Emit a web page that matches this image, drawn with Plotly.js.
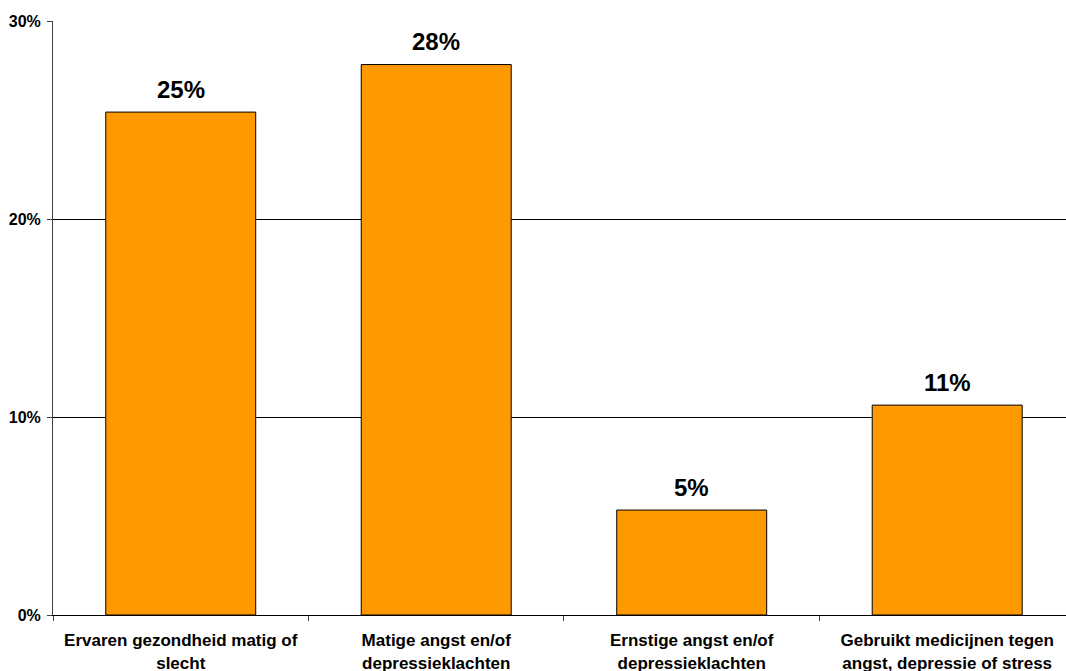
<!DOCTYPE html>
<html>
<head>
<meta charset="utf-8">
<script src="https://cdn.plot.ly/plotly-3.0.1.min.js"></script>
<style>
  html, body { margin: 0; padding: 0; background: #ffffff; }
  #chart { width: 1066px; height: 671px; }
</style>
</head>
<body>
<div id="chart"></div>
<script>
// Indicator categories (two-line labels) and their shares
const categories = [
  "Ervaren gezondheid matig of<br>slecht",
  "Matige angst en/of<br>depressieklachten",
  "Ernstige angst en/of<br>depressieklachten",
  "Gebruikt medicijnen tegen<br>angst, depressie of stress"
];
const shares = [0.254, 0.278, 0.053, 0.106];
const yTickValues = [0, 0.10, 0.20, 0.30];
const yTickLabels = ["0%", "10%", "20%", "30%"];

const fontFamily = "Arial, 'Liberation Sans', sans-serif";

const bars = {
  type: "bar",
  x: categories,
  y: shares,
  width: 0.587,
  marker: { color: "#FF9900", line: { color: "#000000", width: 1 } },
  hoverinfo: "skip"
};

// Value labels above each bar, rounded to whole percentages
const valueLabels = categories.map((c, i) => ({
  x: c,
  y: shares[i],
  xref: "x",
  yref: "y",
  text: Math.round(shares[i] * 100) + "%",
  showarrow: false,
  yanchor: "middle",
  yshift: 23,
  font: { family: fontFamily, size: 24, color: "#000000", weight: "bold" }
}));

const layout = {
  width: 1066,
  height: 671,
  margin: { l: 53, r: 0, t: 21, b: 56 },
  paper_bgcolor: "#ffffff",
  plot_bgcolor: "#ffffff",
  showlegend: false,
  xaxis: {
    type: "category",
    range: [-0.5, 3.465],
    tickson: "boundaries",
    ticks: "outside",
    ticklen: 5,
    tickcolor: "#404040",
    showline: true,
    linecolor: "#000000",
    linewidth: 1,
    showgrid: false,
    zeroline: false,
    ticklabelstandoff: 10,
    tickfont: { family: fontFamily, size: 17, color: "#000000", weight: "bold" },
    fixedrange: true
  },
  yaxis: {
    range: [0, 0.30],
    tickvals: yTickValues,
    ticktext: yTickLabels,
    ticks: "outside",
    ticklen: 5,
    tickcolor: "#404040",
    showline: true,
    linecolor: "#404040",
    linewidth: 1,
    showgrid: true,
    gridcolor: "#000000",
    gridwidth: 1,
    zeroline: false,
    ticklabelstandoff: 3,
    tickfont: { family: fontFamily, size: 16, color: "#000000", weight: "bold" },
    fixedrange: true
  },
  annotations: valueLabels
};

Plotly.newPlot("chart", [bars], layout, { staticPlot: true, displayModeBar: false });
</script>
</body>
</html>
